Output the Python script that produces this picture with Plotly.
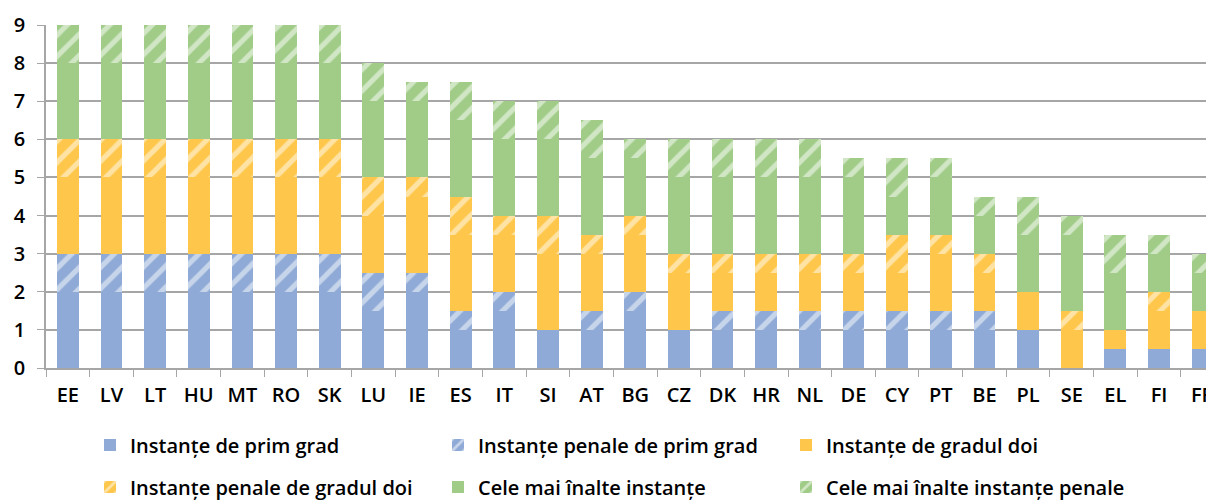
import plotly.graph_objects as go

countries = ["EE","LV","LT","HU","MT","RO","SK","LU","IE","ES","IT","SI","AT","BG",
             "CZ","DK","HR","NL","DE","CY","PT","BE","PL","SE","EL","FI","FR"]
first_inst      = [2,2,2,2,2,2,2,1.5,2,1,1.5,1,1,1.5,1,1,1,1,1,1,1,1,1,0,0.5,0.5,0.5]
first_crim      = [1,1,1,1,1,1,1,1,0.5,0.5,0.5,0,0.5,0.5,0,0.5,0.5,0.5,0.5,0.5,0.5,0.5,0,0,0,0,0]
second_inst     = [2,2,2,2,2,2,2,1.5,2,2,1.5,2,1.5,1.5,1.5,1,1,1,1,1,1.5,1,1,1,0.5,1,1]
second_crim     = [1,1,1,1,1,1,1,1,0.5,1,0.5,1,0.5,0.5,0.5,0.5,0.5,0.5,0.5,1,0.5,0.5,0,0.5,0,0.5,0]
supreme         = [2,2,2,2,2,2,2,2,2,2,2,2,2,1.5,2,2,2,2,2,1,1.5,1,1.5,2,1.5,1,1]
supreme_crim    = [1,1,1,1,1,1,1,1,0.5,1,1,1,1,0.5,1,1,1,1,0.5,1,0.5,0.5,1,0.5,1,0.5,0.5]

series_names = ["Instanțe de prim grad", "Instanțe penale de prim grad", "Instanțe de gradul doi",
                "Instanțe penale de gradul doi", "Cele mai înalte instanțe", "Cele mai înalte instanțe penale"]
series_vals = [first_inst, first_crim, second_inst, second_crim, supreme, supreme_crim]
BLUE, ORANGE, GREEN = "#8faad6", "#fec74b", "#a0cc88"
colors = [BLUE, BLUE, ORANGE, ORANGE, GREEN, GREEN]
hatched = [False, True, False, True, False, True]
legend_ids = ["legend", "legend", "legend", "legend2", "legend2", "legend2"]

fig = go.Figure()
for name, vals, col, h, lg in zip(series_names, series_vals, colors, hatched, legend_ids):
    marker = dict(color=col, line=dict(width=0))
    if h:
        marker["pattern"] = dict(shape="/", fgcolor="white", size=15, solidity=0.35)
    fig.add_trace(go.Bar(x=countries, y=vals, name=name, marker=marker, legend=lg))

FONT = "Open Sans"
W, H = 1206, 494
leg_common = dict(orientation="h", xref="container", yref="container",
                  x=82 / W, xanchor="left", yanchor="middle",
                  entrywidth=303, entrywidthmode="pixels", traceorder="normal",
                  font=dict(family=FONT, size=20, color="black", weight=600), itemwidth=30,
                  bgcolor="rgba(0,0,0,0)")
fig.update_layout(
    barmode="stack", bargap=0.5,
    width=W, height=H,
    margin=dict(l=38, r=0, t=17, b=134),
    plot_bgcolor="white", paper_bgcolor="white",
    font=dict(family=FONT, size=20, color="black"),
    legend=dict(leg_common, y=1 - 437 / H),
    legend2=dict(leg_common, y=1 - 479 / H),
    showlegend=True,
)
fig.update_xaxes(range=[-0.5, 26.26], showline=True, linecolor="#a6a6a6", linewidth=1.5,
                 ticks="outside", tickson="boundaries", ticklen=7, tickcolor="#a6a6a6",
                 ticklabelstandoff=8,
                 tickfont=dict(family=FONT, size=20, color="black", weight=600), showgrid=False)
fig.update_yaxes(range=[0, 9], dtick=1, showline=True, linecolor="#a6a6a6", linewidth=1.5,
                 showgrid=True, gridcolor="#a6a6a6", gridwidth=1.5, zeroline=False,
                 ticks="outside", ticklen=7, tickcolor="#a6a6a6", ticklabelstandoff=8,
                 tickfont=dict(family=FONT, size=20, color="black", weight=600))
fig.write_html("out.html")
